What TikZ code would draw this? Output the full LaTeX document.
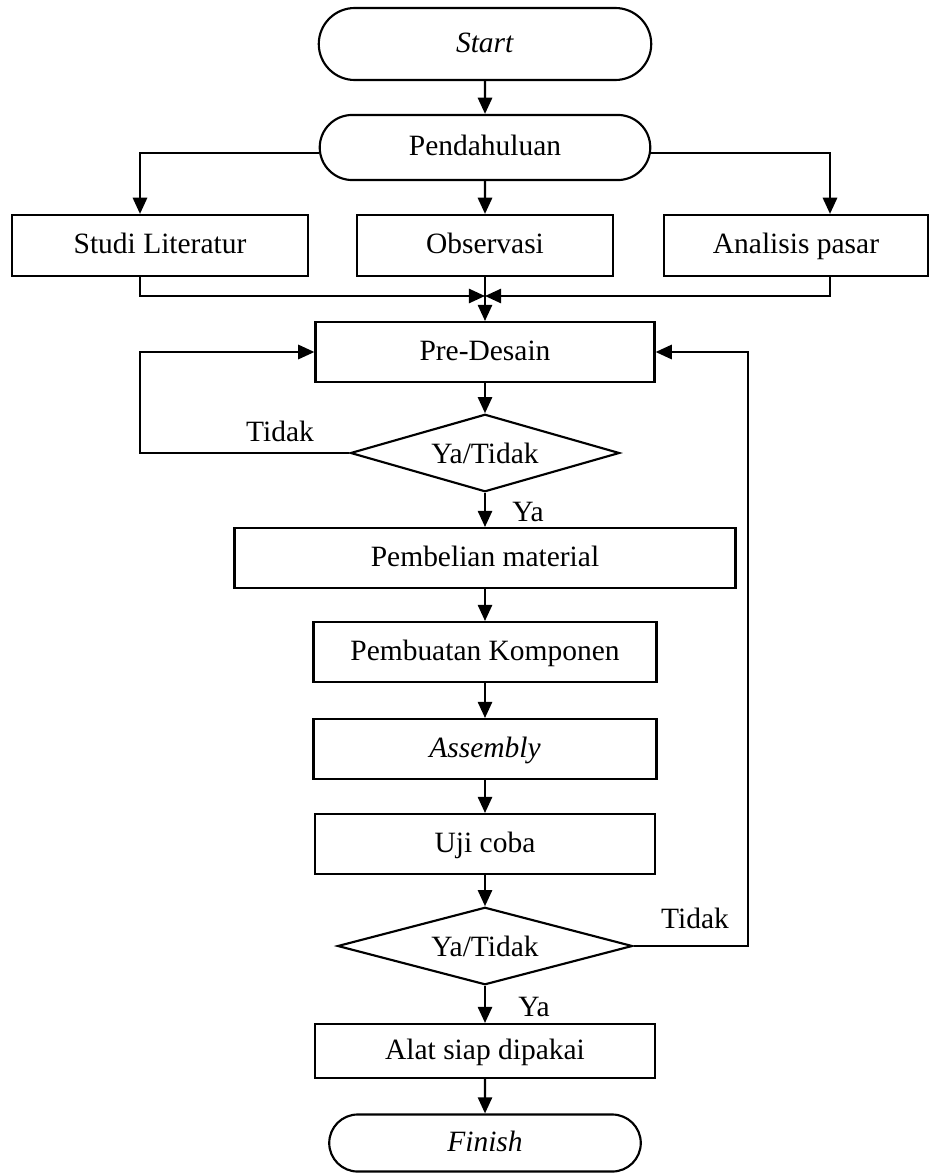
\documentclass[tikz,border=0pt]{standalone}
\usepackage{fontspec}
\setmainfont{Liberation Serif}
\usetikzlibrary{arrows.meta,shapes.geometric,shapes.misc}

\begin{document}
\begin{tikzpicture}[x=0.4208pt, y=-0.4208pt, line width=0.9pt,
    font=\fontsize{12.4}{14}\selectfont,
    box/.style={draw, rectangle, minimum height=25.2pt, inner sep=2pt, text height=0.68em, text depth=0em},
    term/.style={draw, rounded rectangle, inner sep=2pt, text height=0.68em, text depth=0em},
    dec/.style={draw, diamond, aspect=3.5, inner sep=0pt, minimum height=32.6pt},
    arr/.style={-{Triangle[length=6.8pt,width=6pt]}}]
      \useasboundingbox (0,0) rectangle (938,1175);
      \coordinate (cl) at (140,0); \coordinate (cr) at (830,0); \coordinate (cr2) at (748,0);
      \node[term, minimum width=143.9pt, minimum height=30.3pt] (start) at (485,44) {\textit{Start}};
      \node[term, minimum width=143.1pt, minimum height=27.4pt] (pend) at (485,147.5) {Pendahuluan};
      \node[box, minimum width=124.6pt, minimum height=25.7pt] (studi) at (160,245.5) {Studi Literatur};
      \node[box, minimum width=107.7pt, minimum height=25.7pt] (obs) at (485,245.5) {Observasi};
      \node[box, minimum width=111.1pt, minimum height=25.7pt] (anal) at (796,245.5) {Analisis pasar};
      \node[box, minimum width=142.7pt] (pre) at (485,352) {Pre-Desain};
      \node[dec, minimum width=113.2pt] (d1) at (485,453) {Ya/Tidak};
      \node[box, minimum width=210.8pt] (beli) at (485,558) {Pembelian material};
      \node[box, minimum width=144.3pt] (buat) at (485,652) {Pembuatan Komponen};
      \node[box, minimum width=144.3pt] (asm) at (485,749) {\textit{Assembly}};
      \node[box, minimum width=143.1pt] (uji) at (485,844) {Uji coba};
      \node[dec, minimum width=124.1pt] (d2) at (485,946) {Ya/Tidak};
      \node[box, minimum width=143.1pt, minimum height=22.7pt] (alat) at (485,1051) {Alat siap dipakai};
      \node[term, minimum width=135.1pt, minimum height=24pt] (finish) at (485,1143) {\textit{Finish}};
      \node (tdk1) at (280,431) {Tidak};
      \node (tdk2) at (695,918) {Tidak};
      \node (ya1) at (528,512) {Ya};
      \node (ya2) at (534,1007) {Ya};
      % top part
      \coordinate (side) at (0,153);
      \draw[arr] (start) -- (pend);
      \draw[arr] (pend.west |- side) -| (studi.north -| cl);
      \draw[arr] (pend) -- (obs);
      \draw[arr] (pend.east |- side) -| (anal.north -| cr);
      \coordinate (m) at (485,296);
      \draw[arr] (studi.south -| cl) |- (m);
      \draw[arr] (anal.south -| cr) |- (m);
      \draw[arr] (obs) -- (pre);
      % main column
      \draw[arr] (pre) -- (d1); \draw[arr] (d1) -- (beli);
      \draw[arr] (beli) -- (buat); \draw[arr] (buat) -- (asm);
      \draw[arr] (asm) -- (uji); \draw[arr] (uji) -- (d2);
      \draw[arr] (d2) -- (alat); \draw[arr] (alat) -- (finish);
      % loops back
      \draw[arr] (d1.west) -- (d1.west -| cl) |- (pre.west);
      \draw[arr] (d2.east) -- (d2.east -| cr2) |- (pre.east);
    \end{tikzpicture}
\end{document}
